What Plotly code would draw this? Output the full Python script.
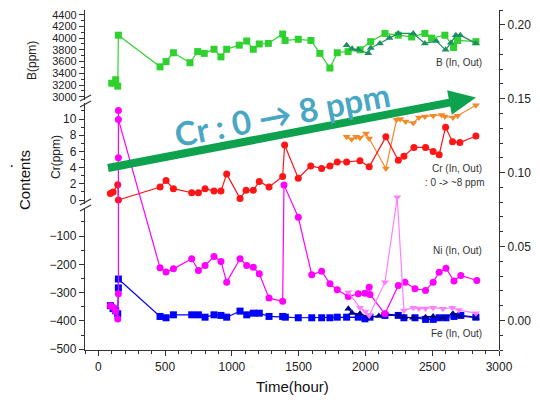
import numpy as np
import plotly.graph_objects as go

# ---------------- data ----------------
b_in_t = [100, 130, 145, 150, 462, 507, 562, 686, 744, 793, 866, 918, 961, 1055, 1111, 1160, 1205, 1273,
          1380, 1398, 1497, 1592, 1659, 1734, 1789, 1870, 1960, 2039, 2146, 2246, 2346, 2445, 2495, 2595,
          2660, 2690, 2827]
b_in = [3230, 3290, 3180, 4050, 3510, 3600, 3750, 3580, 3770, 3740, 3810, 3680, 3810, 3880, 3950, 3810,
        3900, 3910, 4070, 3960, 3980, 3960, 3740, 3490, 3750, 3770, 3800, 3940, 4080, 4050, 4020, 4080,
        4000, 4050, 3840, 3960, 3940]

b_out_t = [1859, 1900, 1946, 2021, 2040, 2108, 2180, 2246, 2358, 2445, 2530, 2600, 2640, 2677, 2710, 2827]
b_out = [3880, 3820, 3800, 3740, 3830, 3910, 4000, 4080, 4080, 3910, 3950, 3800, 3920, 4050, 4050, 3910]

cr_in_t = [90, 110, 145, 150, 462, 507, 562, 699, 749, 799, 866, 918, 961, 1061, 1106, 1160, 1205, 1278,
           1380, 1395, 1497, 1590, 1672, 1734, 1789, 1859, 1959, 2028, 2153, 2246, 2288, 2363, 2450, 2507,
           2552, 2600, 2652, 2707, 2827]
cr_in = [0.8, 1.0, 1.9, 0.0, 1.6, 2.4, 1.4, 0.9, 0.9, 1.4, 1.1, 1.1, 3.2, 0.2, 1.2, 1.2, 2.3, 1.6,
         2.9, 6.8, 2.7, 4.2, 3.9, 4.2, 4.7, 4.7, 4.85, 4.1, 7.8, 4.9, 5.4, 6.5, 6.5, 6.0,
         5.6, 9.0, 7.2, 7.1, 7.9]

cr_out_t = [1859, 1897, 1930, 1959, 2004, 2028, 2153, 2233, 2260, 2300, 2358, 2400, 2445, 2507, 2570,
            2595, 2655, 2690, 2827]
cr_out = [7.8, 7.5, 7.8, 7.7, 8.2, 7.6, 3.9, 9.9, 10.0, 9.7, 9.5, 10.2, 10.3, 10.4, 10.5,
          10.3, 10.2, 10.4, 11.7]

ni_in_t = [90, 110, 130, 145, 150, 150, 150, 150, 462, 507, 562, 699, 749, 799, 866, 918, 961, 1061,
           1111, 1160, 1205, 1278, 1380, 1390, 1497, 1598, 1672, 1734, 1789, 1872, 1946, 1996, 2028,
           2034, 2146, 2246, 2296, 2371, 2450, 2507, 2552, 2603, 2663, 2714, 2834]
ni_in = [0.010, 0.009, 0.006, 0.001, 0.018, 0.110, 0.142, 0.136, 0.0356, 0.0327, 0.0349, 0.0417,
         0.0338, 0.0372, 0.0432, 0.0399, 0.0259, 0.0417, 0.0372, 0.036, 0.0315, 0.0151, 0.013,
         0.0917, 0.0698, 0.0309, 0.0333, 0.0248, 0.0207, 0.0162, 0.018, 0.0184, 0.0225, 0.0176,
         0.0045, 0.0236, 0.0259, 0.0214, 0.0203, 0.0259, 0.0326, 0.0353, 0.0266, 0.0304, 0.027]

ni_out_t = [1872, 1959, 2000, 2028, 2146, 2238, 2288, 2358, 2400, 2450, 2507, 2580, 2650, 2700, 2827]
ni_out = [0.019, 0.0086, 0.006, 0.0034, 0.0259, 0.0833, 0.0068, 0.0086, 0.008, 0.008, 0.0086,
          0.0079, 0.0086, 0.007, 0.0049]

fe_in_t = [90, 110, 130, 145, 150, 150, 462, 507, 562, 699, 749, 799, 866, 918, 961, 1061, 1111, 1160,
           1205, 1278, 1380, 1400, 1497, 1598, 1672, 1734, 1789, 1859, 1946, 1996, 2034, 2146, 2246,
           2288, 2371, 2450, 2507, 2552, 2603, 2663, 2714, 2827]
fe_in = [0.010, 0.008, 0.0065, 0.0045, 0.022, 0.028, 0.0027, 0.0018, 0.0038, 0.0038, 0.0038, 0.0022,
         0.0038, 0.0034, 0.0022, 0.0063, 0.0038, 0.0049, 0.0049, 0.0027, 0.0027, 0.0022, 0.0018,
         0.0018, 0.0018, 0.0018, 0.0022, 0.0022, 0.0022, 0.0011, 0.0022, 0.0034, 0.0034, 0.0018,
         0.0018, 0.0007, 0.0007, 0.0018, 0.0018, 0.0027, 0.0034, 0.0022]

fe_out_t = [1872, 1900, 1959, 2028, 2100, 2146, 2246, 2288, 2358, 2450, 2507, 2580, 2655, 2700, 2827]
fe_out = [0.0079, 0.005, 0.0045, 0.0022, 0.003, 0.0045, 0.0034, 0.0022, 0.0018, 0.0022, 0.0027,
          0.0018, 0.0045, 0.003, 0.0018]

x_ticks = [0, 500, 1000, 1500, 2000, 2500, 3000]
b_ticks = list(range(3000, 4401, 200))
cr_ticks = [0, 2, 4, 6, 8, 10]
low_ticks = [-500, -400, -300, -200, -100]
right_ticks = [0.00, 0.05, 0.10, 0.15, 0.20]
right_labels = ["0.00", "0.05", "0.10", "0.15", "0.20"]

# ---------------- layout geometry ----------------
W, H = 540, 403
L, R, T, B = 85, 41, 10, 53
PW, PH = W - L - R, H - T - B


def px(x):
    return (x - L) / PW


def py(y):
    return (H - B - y) / PH


AX = "#333333"
TF = dict(family="Liberation Sans, Arial, sans-serif", size=12, color="#222222")

fig = go.Figure()

# empty trace so the lower left axis segment is created
fig.add_trace(go.Scatter(x=[], y=[], xaxis="x", yaxis="y", showlegend=False, hoverinfo="skip"))


def add(t, v, yax, color, symbol, lw=1.2, size=7):
    fig.add_trace(go.Scatter(x=t, y=v, xaxis="x", yaxis=yax, mode="lines+markers",
                             line=dict(color=color, width=lw),
                             marker=dict(color=color, symbol=symbol, size=size, line=dict(width=0)),
                             showlegend=False, hoverinfo="skip"))


add(b_in_t, b_in, "y3", "#2ed12e", "square")
add(b_out_t, b_out, "y3", "#1e8f5e", "triangle-up")
add(fe_in_t, fe_in, "y4", "#0000ff", "square")
add(fe_out_t, fe_out, "y4", "#00008c", "triangle-up")
add(ni_in_t, ni_in, "y4", "#ff00ff", "circle")
add(ni_out_t, ni_out, "y4", "#ff80ff", "triangle-down")
add(cr_out_t, cr_out, "y2", "#f28a2a", "triangle-down")
add(cr_in_t, cr_in, "y2", "#ff1515", "circle")

common = dict(showline=True, linecolor=AX, linewidth=1.3, ticks="outside", ticklen=5, tickwidth=1,
              tickcolor=AX, showgrid=False, zeroline=False, tickfont=TF)

fig.update_layout(
    width=W, height=H, margin=dict(l=L, r=R, t=T, b=B),
    paper_bgcolor="white", plot_bgcolor="rgba(0,0,0,0)",
    xaxis=dict(**common, range=[-100, 3000], tickvals=x_ticks, anchor="y", domain=[0, 1],
               minor=dict(ticks="outside", ticklen=3, dtick=100, tick0=0, tickcolor=AX)),
    xaxis2=dict(showline=True, linecolor=AX, linewidth=1.3, ticks="inside", ticklen=5, tickcolor=AX,
                showgrid=False, zeroline=False, range=[-100, 3000], tickvals=x_ticks,
                showticklabels=False, overlaying="x", side="top", anchor="y3",
                minor=dict(ticks="inside", ticklen=3, dtick=100, tick0=0, tickcolor=AX)),
    yaxis=dict(**common, domain=[0, py(208.3)], range=[-502.5, -2], tickvals=low_ticks, anchor="x",
               minor=dict(ticks="outside", ticklen=3, dtick=50, tick0=0, tickcolor=AX)),
    yaxis2=dict(**common, domain=[py(204), py(103)], range=[-0.49, 11.98], tickvals=cr_ticks, anchor="x",
                minor=dict(ticks="outside", ticklen=3, dtick=1, tick0=0, tickcolor=AX)),
    yaxis3=dict(**common, domain=[py(100), 1], range=[2944, 4480], tickvals=b_ticks, anchor="x",
                minor=dict(ticks="outside", ticklen=3, dtick=100, tick0=0, tickcolor=AX)),
    yaxis4=dict(**common, domain=[0, 1], range=[-0.02, 0.21], tickvals=right_ticks,
                ticktext=right_labels, anchor="x", side="right",
                minor=dict(ticks="outside", ticklen=3, dtick=0.01, tick0=0, tickcolor=AX)),
)
fig.update_layout(yaxis3_tickfont=dict(size=11))

# ---------------- axis break marks ----------------
shapes = []
for yb in (101, 205):
    for off in (-3, 3):
        shapes.append(dict(type="line", xref="paper", yref="paper",
                           x0=px(80), y0=py(yb + off + 3), x1=px(91), y1=py(yb + off - 3),
                           line=dict(color=AX, width=1.2)))

# ---------------- big green arrow ----------------
S = np.array([108.0, 168.0])
Tp = np.array([476.0, 97.5])
u = (Tp - S) / np.linalg.norm(Tp - S)
n = np.array([-u[1], u[0]])
Bc = Tp - 27 * u
pts = [S + 4 * n, Bc + 4 * n, Bc + 12.5 * n, Tp, Bc - 12.5 * n, Bc - 4 * n, S - 4 * n]
path = "M " + " L ".join(f"{px(p[0]):.5f},{py(p[1]):.5f}" for p in pts) + " Z"
shapes.append(dict(type="path", xref="paper", yref="paper", path=path,
                   fillcolor="#0ea24f", line=dict(width=0)))
fig.update_layout(shapes=shapes)

# ---------------- text ----------------
small = dict(family="Liberation Sans, Arial, sans-serif", size=10, color="#333333")
lab = dict(family="Liberation Sans, Arial, sans-serif", size=12, color="#222222")
big = dict(family="Liberation Sans, Arial, sans-serif", size=15, color="#111111")
ann = [
    dict(x=px(484), y=py(62), text="B (In, Out)", xanchor="right", font=small),
    dict(x=px(484), y=py(168), text="Cr (In, Out)", xanchor="right", font=small),
    dict(x=px(486), y=py(182), text=": 0 -> ~8 ppm", xanchor="right", font=small),
    dict(x=px(484), y=py(251), text="Ni (In, Out)", xanchor="right", font=small),
    dict(x=px(484), y=py(333), text="Fe (In, Out)", xanchor="right", font=small),
    dict(x=px(32), y=py(60), text="B(ppm)", textangle=-90, font=lab),
    dict(x=px(56), y=py(157), text="Cr(ppm)", textangle=-90, font=lab),
    dict(x=px(24), y=py(180), text="Contents", textangle=-90, font=big),
    dict(x=px(11), y=py(165), text="·", font=dict(family="Liberation Sans, Arial", size=16, color="#111111")),
    dict(x=px(292), y=py(386), text="Time(hour)", font=big),
    dict(x=px(282), y=py(114), text="<b>Cr : 0 → 8 ppm</b>", textangle=-10.8,
         font=dict(family="Lato, Open Sans, sans-serif", size=33, color="#4aa7c4")),
]
for a in ann:
    a.setdefault("xanchor", "center")
    a.update(xref="paper", yref="paper", showarrow=False, yanchor="middle")
fig.update_layout(annotations=ann)

fig.write_html("out.html", config={"displayModeBar": False},
               post_script="document.body.style.margin='0px';document.body.style.padding='0px';")
